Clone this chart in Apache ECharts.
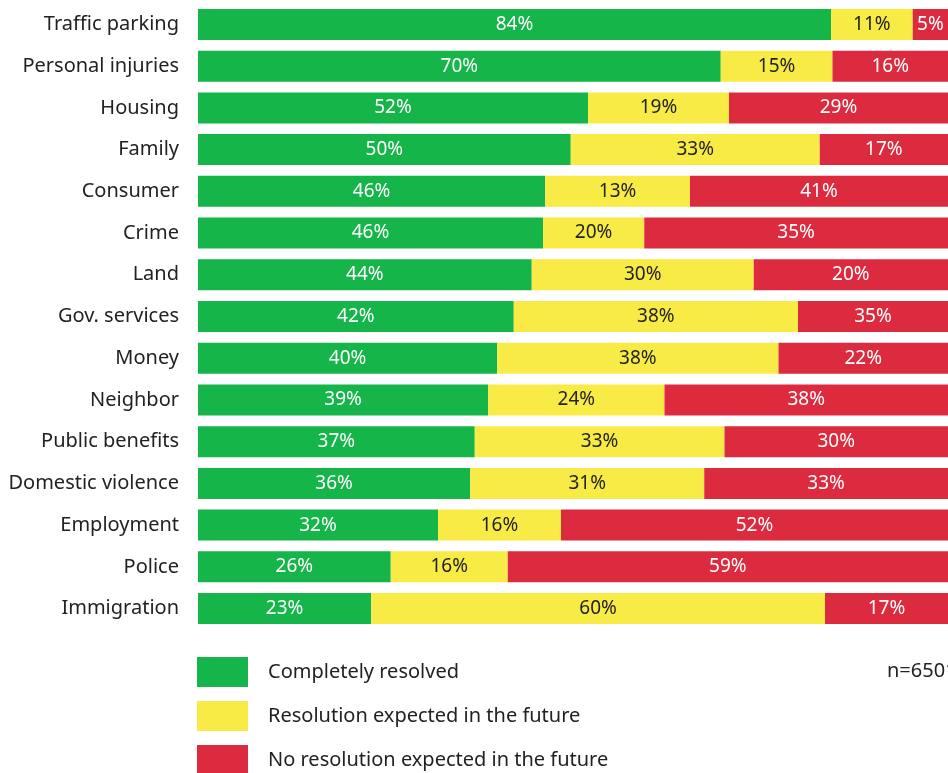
<!DOCTYPE html>
<html>
<head>
<meta charset="utf-8">
<script src="https://cdn.jsdelivr.net/npm/echarts@6/dist/echarts.min.js"></script>
<style>
  html, body { margin: 0; padding: 0; background: #fff; }
  #chart { width: 948px; height: 773px; }
</style>
</head>
<body>
<div id="chart"></div>
<script>
// categories, top to bottom
const categories = [
  'Traffic parking', 'Personal injuries', 'Housing', 'Family', 'Consumer',
  'Crime', 'Land', 'Gov. services', 'Money', 'Neighbor',
  'Public benefits', 'Domestic violence', 'Employment', 'Police', 'Immigration'
];

// segment widths as drawn (share of bar, %)
const resolved = [84.4, 69.7, 52.0, 49.7, 46.3, 46.0, 44.5, 42.1, 39.9, 38.7, 36.9, 36.3, 32.0, 25.7, 23.1];
const expected = [10.9, 14.9, 18.8, 33.2, 19.3, 13.5, 29.6, 37.9, 37.5, 23.5, 33.3, 31.2, 16.4, 15.6, 60.5];
const noResolution = [4.7, 15.4, 29.2, 17.1, 34.4, 40.5, 25.9, 20.0, 22.6, 37.8, 29.8, 32.5, 51.6, 58.7, 16.4];

// percentages printed on the bars
const resolvedLabels = [84, 70, 52, 50, 46, 46, 44, 42, 40, 39, 37, 36, 32, 26, 23];
const expectedLabels = [11, 15, 19, 33, 13, 20, 30, 38, 38, 24, 33, 31, 16, 16, 60];
const noResolutionLabels = [5, 16, 29, 17, 41, 35, 20, 35, 22, 38, 30, 33, 52, 59, 17];

const seriesNames = [
  'Completely resolved',
  'Resolution expected in the future',
  'No resolution expected in the future'
];
const colors = ['#15b54a', '#f9eb45', '#dc2b3e'];
const font = '"Noto Sans", "Open Sans", sans-serif';

function makeSeries(name, values, labels, color, labelColor) {
  return {
    name: name,
    type: 'bar',
    stack: 'total',
    barWidth: 31,
    data: values,
    itemStyle: { color: color },
    label: {
      show: true,
      position: 'inside',
      color: labelColor,
      fontFamily: font,
      fontSize: 19,
      formatter: p => labels[p.dataIndex] + '%'
    },
    emphasis: { disabled: true }
  };
}

// one legend per item so they stack down past the bottom edge
function makeLegend(name, top) {
  return {
    left: 197,
    top: top,
    padding: 0,
    itemWidth: 51,
    itemHeight: 30,
    icon: 'rect',
    selectedMode: false,
    data: [name],
    textStyle: {
      color: '#222',
      fontFamily: font,
      fontSize: 20,
      padding: [0, 0, 0, 15]
    }
  };
}

const chart = echarts.init(document.getElementById('chart'));
chart.setOption({
  animation: false,
  color: colors,
  grid: { left: 198, right: 0, top: 3.6, bottom: 143.6 },
  xAxis: {
    type: 'value',
    min: 0,
    max: 100,
    show: false
  },
  yAxis: {
    type: 'category',
    inverse: true,
    data: categories,
    axisLine: { show: false },
    axisTick: { show: false },
    axisLabel: {
      margin: 19,
      color: '#222',
      fontFamily: font,
      fontSize: 20
    }
  },
  legend: [
    makeLegend(seriesNames[0], 657),
    makeLegend(seriesNames[1], 701),
    makeLegend(seriesNames[2], 745)
  ],
  graphic: [{
    type: 'text',
    left: 887,
    top: 661,
    style: {
      text: 'n=6501',
      fill: '#222',
      font: '20px "Noto Sans", "Open Sans", sans-serif'
    }
  }],
  series: [
    makeSeries(seriesNames[0], resolved, resolvedLabels, colors[0], '#fff'),
    makeSeries(seriesNames[1], expected, expectedLabels, colors[1], '#222'),
    makeSeries(seriesNames[2], noResolution, noResolutionLabels, colors[2], '#fff')
  ]
});
</script>
</body>
</html>
